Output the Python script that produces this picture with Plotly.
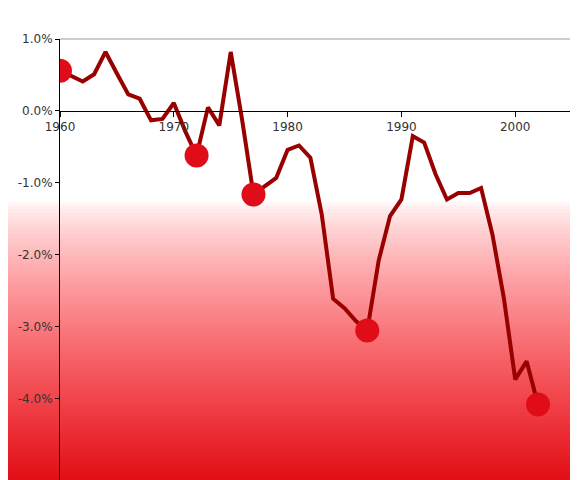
import plotly.graph_objects as go

years = list(range(1960, 2003))
values = [0.56, 0.48, 0.41, 0.51, 0.82, 0.52, 0.23, 0.17, -0.13, -0.11, 0.11, -0.28, -0.62,
          0.05, -0.2, 0.82, -0.12, -1.16, -1.05, -0.93, -0.54, -0.48, -0.65, -1.44, -2.61,
          -2.74, -2.92, -3.05, -2.08, -1.46, -1.23, -0.35, -0.44, -0.88, -1.23, -1.14, -1.14,
          -1.07, -1.72, -2.6, -3.73, -3.48, -4.08]
marker_years = [1960, 1972, 1977, 1987, 2002]
marker_values = [values[years.index(y)] for y in marker_years]
y_ticks = [1.0, 0.0, -1.0, -2.0, -3.0, -4.0]
y_labels = ["1.0%", "0.0%", "-1.0%", "-2.0%", "-3.0%", "-4.0%"]
x_ticks = [1960, 1970, 1980, 1990, 2000]

ymin, ymax = -5.24, 1.0
W, H, L, R, T, B = 578, 480, 52, 15, 31, 0
pw, ph = W - L - R, H - T - B

shapes = []
n = 80
top_px, bot_px = 190, 480
for i in range(n):
    f = i / (n - 1)
    e = f ** 0.75
    r = round(255 + (225 - 255) * f ** 2)
    g = round(255 + (10 - 255) * e)
    b = round(255 + (18 - 255) * e)
    y0px = top_px + (bot_px - top_px) * i / n
    y1px = top_px + (bot_px - top_px) * (i + 1) / n + 1
    shapes.append(dict(type="rect", xref="paper", yref="paper", layer="below",
                       x0=-L / pw - 0.01, x1=1 + R / pw + 0.01,
                       y0=(H - B - y1px) / ph, y1=(H - B - y0px) / ph,
                       line=dict(width=0), fillcolor=f"rgb({r},{g},{b})"))
shapes.append(dict(type="line", xref="paper", yref="paper", x0=0, x1=1, y0=1, y1=1,
                   line=dict(color="#999", width=1)))
shapes.append(dict(type="line", xref="paper", yref="paper", x0=1, x1=1, y0=0, y1=1,
                   line=dict(color="#999", width=1)))

fig = go.Figure()
fig.add_trace(go.Scatter(x=years, y=values, mode="lines",
                         line=dict(color="#990000", width=4), hoverinfo="skip"))
fig.add_trace(go.Scatter(x=marker_years, y=marker_values, mode="markers",
                         marker=dict(color="#e00c18", size=24, line=dict(width=0)),
                         hoverinfo="skip"))
fig.update_layout(
    width=W, height=H, margin=dict(l=L, r=R, t=T, b=B, autoexpand=False),
    paper_bgcolor="white", plot_bgcolor="rgba(0,0,0,0)", showlegend=False,
    shapes=shapes,
    font=dict(family="DejaVu Sans", size=12, color="#333"),
    xaxis=dict(range=[1960, 2004.9], tickvals=x_ticks, showgrid=False, zeroline=False,
               automargin=False, anchor="free", position=(0 - ymin) / (ymax - ymin),
               showline=True, linecolor="black", linewidth=1, ticks="outside", ticklen=5,
               tickcolor="black"),
    yaxis=dict(range=[ymin, ymax], tickvals=y_ticks, ticktext=y_labels, showgrid=False,
               automargin=False, zeroline=False, showline=True, linecolor="black",
               linewidth=1, ticks="outside", ticklen=4, tickcolor="black"),
)
fig.write_html("out.html")
